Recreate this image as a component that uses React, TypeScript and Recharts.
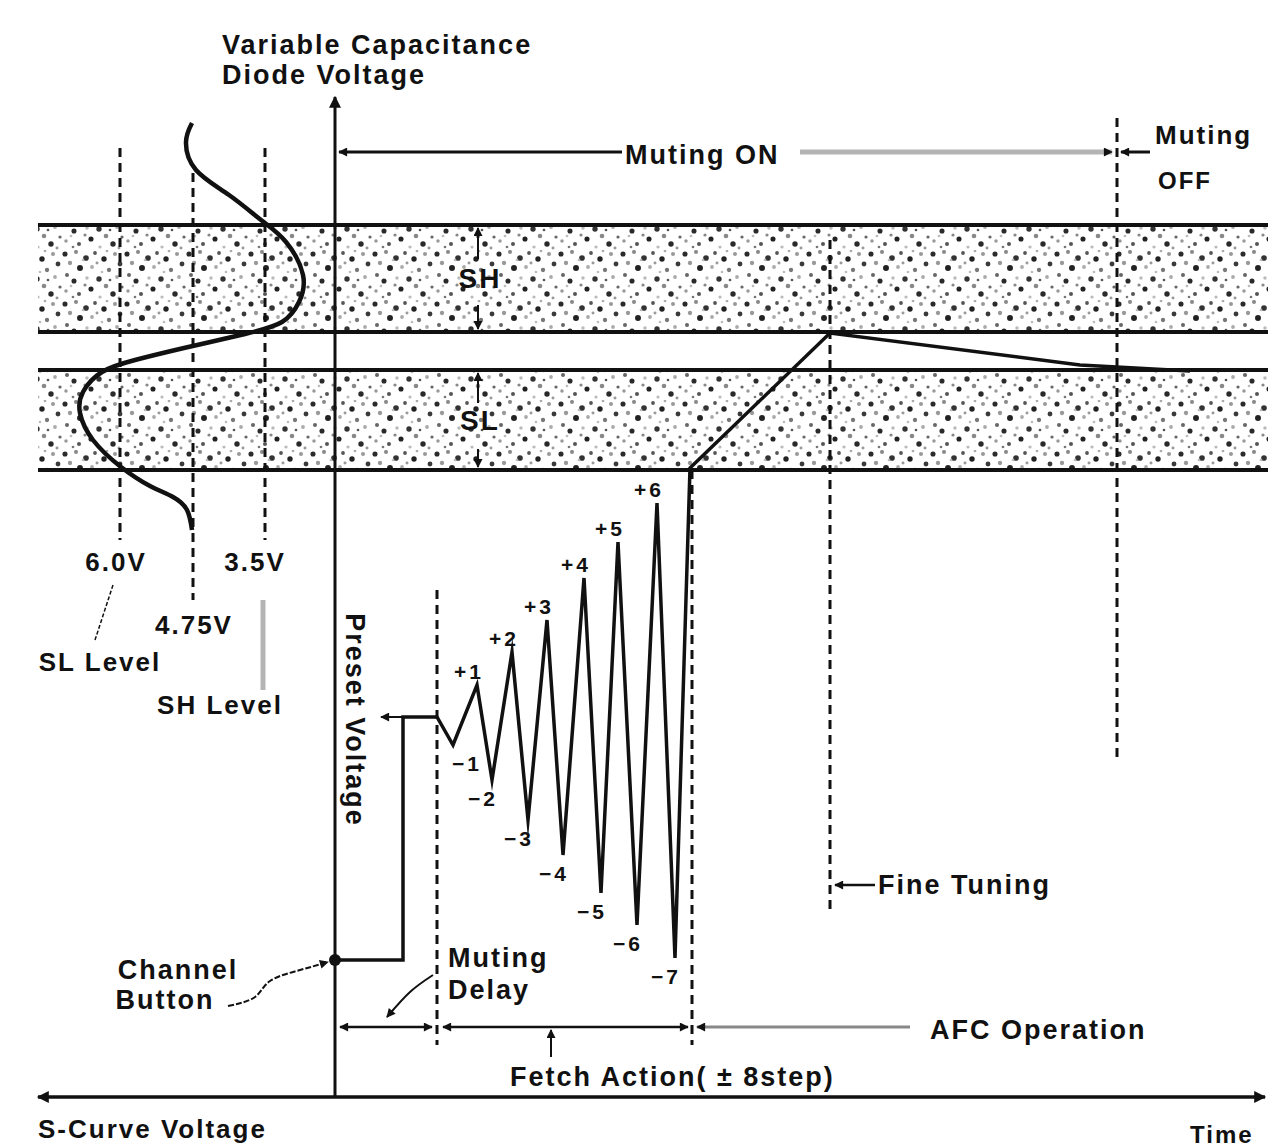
import React from "react";
import { ComposedChart, Line, XAxis, YAxis, ReferenceLine, ReferenceArea, ReferenceDot } from "recharts";

// diagram units: t = time (0 on the diode-voltage axis, negative = S-curve side), v = voltage
const W = 1285;
const H = 1146;

const presetT = [0, 68, 68, 102];
const presetV = [137, 137, 380, 380];
const fetchT = [118, 142, 157, 177, 193, 212, 228, 249, 266, 283, 302, 322, 340];
const fetchV = [352, 412, 317, 445, 277, 477, 242, 519, 204, 555, 172, 594, 139];
const stepLabels = ["−1", "+1", "−2", "+2", "−3", "+3", "−4", "+4", "−5", "+5", "−6", "+6", "−7"];
const afcT = [355, 495, 745, 855];
const afcV = [629, 764, 732, 726];

const sCurveT = [-143, -149, -139, -106, -74, -49, -32, -36, -53, -90, -151, -200, -233, -252, -255, -242, -214, -185, -162, -148, -143];
const sCurveV = [974, 955, 927, 902, 877, 855, 822, 795, 775, 763, 749, 737, 725, 705, 684, 657, 630, 611, 600, 587, 567];

const bandNames = ["SH", "SL"];
const bandTop = [872, 727];
const bandBottom = [765, 627];

const levelLabels = ["6.0V", "4.75V", "3.5V"];
const levelT = [-215, -142, -70];

const mutingDelayEnd = 102;
const fetchEnd = 357;
const fineTuning = 495;
const mutingOff = 782;

const wave = [
  ...presetT.map((t, i) => ({ x: t, y: presetV[i] })),
  ...fetchT.map((t, i) => ({ x: t, y: fetchV[i] })),
  ...afcT.map((t, i) => ({ x: t, y: afcV[i] })),
];
const sCurve = sCurveT.map((t, i) => ({ x: t, y: sCurveV[i] }));
const buttonLeader = [{ x: -107, y: 91 }, { x: -80, y: 100 }, { x: -65, y: 116 }, { x: -35, y: 127 }, { x: -7, y: 135 }];
const delayLeader = [{ x: 98, y: 122 }, { x: 75, y: 105 }, { x: 52, y: 80 }];

const FONT = "'Liberation Sans', Arial, sans-serif";
const INK = "#111";
const GREY = "#b4b4b4";

// speckle texture of the two stippled bands (texture only, not data)
const specks = [
  [3, 4, 1.9, "#2a2a2a"], [14, 2, 1.5, "#8a8a8a"], [24, 8, 2.1, "#333"], [8, 13, 1.6, "#999"],
  [33, 3, 1.4, "#555"], [42, 9, 2.0, "#222"], [53, 4, 1.5, "#999"], [58, 14, 1.8, "#3a3a3a"],
  [18, 18, 2.2, "#222"], [30, 17, 1.4, "#aaa"], [47, 20, 1.6, "#777"], [5, 25, 1.5, "#666"],
  [12, 31, 1.9, "#2a2a2a"], [25, 28, 1.3, "#bbb"], [37, 29, 2.0, "#333"], [55, 27, 1.4, "#aaa"],
  [44, 36, 1.7, "#888"], [29, 39, 1.9, "#222"], [4, 41, 1.3, "#999"], [17, 44, 1.5, "#555"],
  [51, 44, 2.0, "#2a2a2a"], [38, 47, 1.2, "#bbb"], [60, 37, 1.2, "#666"], [21, 10, 1.0, "#bbb"],
  [48, 30, 1.0, "#555"], [9, 36, 1.0, "#bbb"], [35, 13, 1.1, "#999"], [23, 35, 1.2, "#888"],
  [57, 48, 1.1, "#999"], [45, 1, 1.0, "#aaa"], [11, 47, 1.0, "#777"], [40, 22, 1.0, "#bbb"],
];

function note(key: string, t: number, v: number, text: string, o: any = {}) {
  return (
    <ReferenceDot
      key={key}
      x={t}
      y={v}
      r={0}
      ifOverflow="visible"
      shape={(p: any) => (
        <text
          x={p.cx}
          y={p.cy}
          textAnchor={o.anchor || "start"}
          dominantBaseline="central"
          fontFamily={FONT}
          fontWeight={700}
          fontSize={o.size || 27}
          letterSpacing={o.spacing ?? 2}
          fill={INK}
          transform={o.rotate ? `rotate(${o.rotate} ${p.cx} ${p.cy})` : undefined}
        >
          {text}
        </text>
      )}
    />
  );
}

function seg(key: string, a: [number, number], b: [number, number], o: any = {}) {
  return (
    <ReferenceLine
      key={key}
      segment={[{ x: a[0], y: a[1] }, { x: b[0], y: b[1] }]}
      ifOverflow="visible"
      shape={(p: any) => (
        <line
          x1={p.x1}
          y1={p.y1}
          x2={p.x2}
          y2={p.y2}
          stroke={o.color || INK}
          strokeWidth={o.width || 3}
          strokeDasharray={o.dash}
          markerEnd={o.end ? `url(#${o.end})` : undefined}
          markerStart={o.start ? `url(#${o.start})` : undefined}
        />
      )}
    />
  );
}

export default function App() {
  const dash = "9 6";
  return (
    <div style={{ position: "absolute", left: 0, top: 0, background: "#fff" }}>
      <ComposedChart width={W} height={H} margin={{ top: 0, right: 0, bottom: 0, left: 0 }}>
        <defs>
          <pattern id="stipple" width="62" height="50" patternUnits="userSpaceOnUse">
            <rect width="62" height="50" fill="#fff" />
            {specks.map(([x, y, r, c], i) => (
              <circle key={i} cx={x as number} cy={y as number} r={(r as number) * 1.35} fill={c as string} />
            ))}
          </pattern>
          <marker id="arr" viewBox="0 0 10 10" refX="9" refY="5" markerWidth="13" markerHeight="9" markerUnits="userSpaceOnUse" orient="auto-start-reverse">
            <path d="M0,0 L10,5 L0,10 z" fill={INK} />
          </marker>
          <marker id="arrBig" viewBox="0 0 10 10" refX="9" refY="5" markerWidth="20" markerHeight="12" markerUnits="userSpaceOnUse" orient="auto-start-reverse">
            <path d="M0,0 L10,5 L0,10 z" fill={INK} />
          </marker>
        </defs>
        <XAxis type="number" dataKey="x" domain={[-335, 950]} allowDataOverflow hide />
        <YAxis type="number" domain={[-49, 1097]} allowDataOverflow hide />

        {bandNames.map((n, i) => (
          <ReferenceArea key={`band-${n}`} x1={-297} x2={933} y1={bandBottom[i]} y2={bandTop[i]} fill="url(#stipple)" fillOpacity={1} stroke="none" ifOverflow="visible" />
        ))}
        {bandNames.map((n, i) => seg(`bt-${n}`, [-297, bandTop[i]], [933, bandTop[i]], { width: 4 }))}
        {bandNames.map((n, i) => seg(`bb-${n}`, [-297, bandBottom[i]], [933, bandBottom[i]], { width: 4 }))}

        {/* band height markers */}
        {seg("sh1", [143, 838], [143, 869], { width: 2, end: "arr" })}
        {seg("sh2", [143, 792], [143, 768], { width: 2, end: "arr" })}
        {seg("sl1", [143, 694], [143, 724], { width: 2, end: "arr" })}
        {seg("sl2", [143, 648], [143, 630], { width: 2, end: "arr" })}

        {/* axes */}
        {seg("yaxis", [0, 0], [0, 1000], { width: 3, end: "arrBig" })}
        {seg("xaxis", [-297, 0], [930, 0], { width: 3.5, start: "arrBig", end: "arrBig" })}

        {/* S-curve level lines */}
        {levelT.map((t, i) => seg(`lvl-${i}`, [t, i === 1 ? 924 : 949], [t, i === 1 ? 497 : 557], { dash, width: 3 }))}
        {seg("shlvl", [-72, 497], [-72, 407], { color: GREY, width: 5 })}
        {seg("sllvl", [-222, 512], [-240, 457], { width: 1.5, dash: "4 2" })}

        {/* event markers */}
        {seg("ev-delay", [mutingDelayEnd, 507], [mutingDelayEnd, 52], { dash })}
        {seg("ev-fetch", [fetchEnd, 627], [fetchEnd, 52], { dash })}
        {seg("ev-fine", [fineTuning, 857], [fineTuning, 182], { dash })}
        {seg("ev-off", [mutingOff, 979], [mutingOff, 337], { dash })}

        {/* muting spans */}
        {seg("mon1", [287, 945], [4, 945], { width: 3, end: "arr" })}
        {seg("mon2", [465, 945], [777, 945], { width: 5, color: GREY, end: "arr" })}
        {seg("moff", [815, 945], [786, 945], { width: 3, end: "arr" })}

        {/* bottom spans */}
        {seg("sp-delay", [5, 70], [97, 70], { width: 2.5, start: "arr", end: "arr" })}
        {seg("sp-fetch", [108, 70], [353, 70], { width: 2.5, start: "arr", end: "arr" })}
        {seg("sp-afc", [575, 70], [362, 70], { width: 3, color: "#888", end: "arr" })}
        {seg("sp-tick", [216, 40], [216, 67], { width: 2, end: "arr" })}
        {seg("fine-arr", [540, 212], [500, 212], { width: 2.5, end: "arr" })}
        {seg("preset-arr", [67, 380], [46, 380], { width: 2, end: "arr" })}

        <Line data={sCurve} dataKey="y" type="natural" stroke={INK} strokeWidth={4.5} dot={false} activeDot={false} isAnimationActive={false} />
        <Line data={wave} dataKey="y" type="linear" stroke={INK} strokeWidth={3.5} dot={false} activeDot={false} strokeLinejoin="miter" strokeMiterlimit={12} isAnimationActive={false} />
        <Line data={buttonLeader} dataKey="y" type="natural" stroke={INK} strokeWidth={2} strokeDasharray="6 2" dot={false} activeDot={false} markerEnd="url(#arr)" isAnimationActive={false} />
        <Line data={delayLeader} dataKey="y" type="natural" stroke={INK} strokeWidth={2} dot={false} activeDot={false} markerEnd="url(#arr)" isAnimationActive={false} />
        <ReferenceDot x={0} y={137} r={6} fill={INK} stroke="none" />

        {/* step labels */}
        {fetchT.map((t, i) =>
          i % 2 === 1
            ? note(`st-${i}`, t + 7, fetchV[i] + 14, stepLabels[i], { anchor: "end", size: 21, spacing: 3 })
            : note(`st-${i}`, i === 0 ? t + 29 : t + 6, fetchV[i] - 18, stepLabels[i], { anchor: "end", size: 21, spacing: 3 })
        )}

        {bandNames.map((n, i) => note(`bn-${n}`, 145, (bandTop[i] + bandBottom[i]) / 2, n, { anchor: "middle", size: 28 }))}
        {note("lv0", -219, 535, levelLabels[0], { anchor: "middle", size: 26 })}
        {note("lv1", -141, 472, levelLabels[1], { anchor: "middle", size: 26 })}
        {note("lv2", -80, 535, levelLabels[2], { anchor: "middle", size: 26 })}
        {note("sll", -235, 435, "SL Level", { anchor: "middle", size: 26 })}
        {note("shl", -115, 392, "SH Level", { anchor: "middle", size: 26 })}

        {note("t1", -113, 1052, "Variable Capacitance")}
        {note("t2", -113, 1022, "Diode  Voltage")}
        {note("mon", 290, 942, "Muting  ON")}
        {note("moff1", 820, 962, "Muting", { size: 26 })}
        {note("moff2", 823, 917, "OFF", { size: 24 })}
        {note("preset", 20, 377, "Preset Voltage", { anchor: "middle", rotate: 90 })}
        {note("ch1", -157, 127, "Channel", { anchor: "middle" })}
        {note("ch2", -170, 97, "Button", { anchor: "middle" })}
        {note("md1", 113, 139, "Muting")}
        {note("md2", 113, 107, "Delay")}
        {note("fine", 543, 212, "Fine  Tuning")}
        {note("afc", 595, 67, "AFC  Operation")}
        {note("fetch", 175, 20, "Fetch  Action( ± 8step)")}
        {note("scv", -297, -32, "S-Curve  Voltage", { size: 26 })}
        {note("time", 855, -37, "Time", { size: 24 })}
      </ComposedChart>
    </div>
  );
}
